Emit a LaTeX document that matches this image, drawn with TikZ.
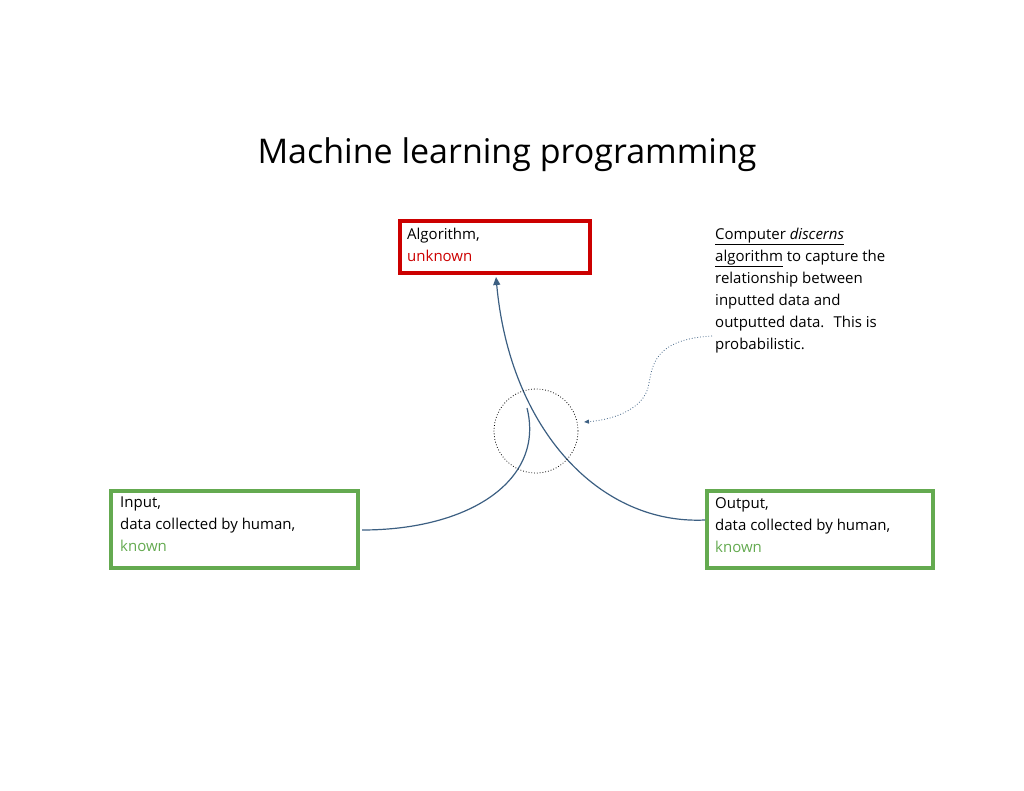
\documentclass[tikz,border=0pt]{standalone}
\usepackage{fontspec}
\setmainfont{Open Sans}
\usetikzlibrary{arrows.meta}
\definecolor{redb}{RGB}{204,0,0}
\definecolor{greenb}{RGB}{100,170,80}
\definecolor{link}{RGB}{60,95,130}
\tikzset{
 box/.style={draw, line width=3.5pt, minimum height=0, inner sep=0},
 txt/.style={align=left, anchor=north west, font=\fontsize{15}{22}\selectfont, inner sep=0},
 conn/.style={draw=link, line width=1.2pt},
}
\begin{document}
\begin{tikzpicture}[x=1pt,y=-1pt]
\useasboundingbox (0,0) rectangle (1024,791);
\node (title) at (507,155) {\fontsize{34}{40}\selectfont Machine learning programming};
\draw[box, redb] (400,221) rectangle (590,273);
\coordinate (alg) at (496,277);
\node[txt] (algt) at (407,228) {Algorithm,\\\textcolor{redb}{unknown}};
\draw[box, greenb] (111,491) rectangle (358,568);
\node[txt] (int) at (120,497) {Input,\\data collected by human,\\\textcolor{greenb}{known}};
\draw[box, greenb] (707,491) rectangle (933,568);
\node[txt] (outt) at (715,497) {Output,\\data collected by human,\\\textcolor{greenb}{known}};
\coordinate (in) at (362,530);
\coordinate (out) at (705,520);
\coordinate (mid) at (527,408);
\draw[conn] (in) .. controls (470,530) and (545,480) .. (mid);
\draw[conn, -{Triangle[length=8pt,width=7pt]}] (out) .. controls (600,525) and (510,430) .. (alg);
\node[draw, dotted, thick, circle, minimum size=84pt, inner sep=0] (circ) at (536,431) {};
\node[txt] (note) at (715,228) {\underline{Computer \textit{discerns}}\\\underline{algorithm} to capture the\\relationship between\\inputted data and\\outputted data.~ This is\\probabilistic.};
\coordinate (ns) at (712,336);
\coordinate (ne) at (584,422);
\draw[link, dotted, thick, -{Triangle[length=5pt,width=4pt]}] (ns) .. controls (640,340) and (655,380) .. (645,395) .. controls (635,412) and (610,420) .. (ne);
\end{tikzpicture}
\end{document}
